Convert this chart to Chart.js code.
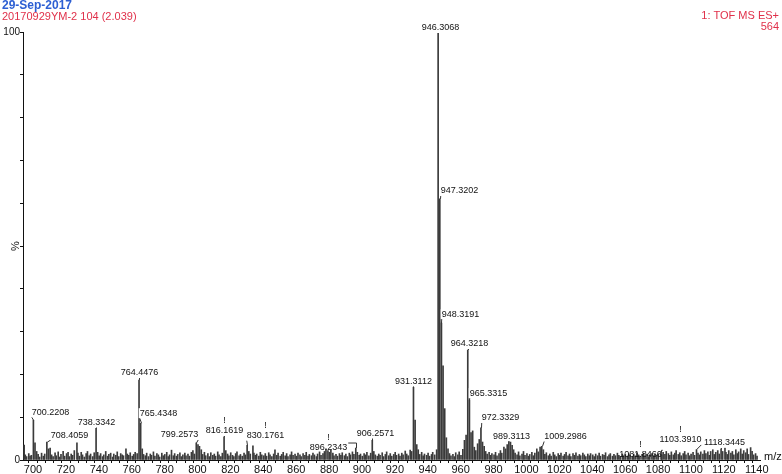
<!DOCTYPE html>
<html>
<head>
    <title>TOF MS ES+ spectrum</title>
    <meta charset="utf-8" />
    <script src="https://cdn.jsdelivr.net/npm/chart.js@4.4.1/dist/chart.umd.min.js"></script>
    <style>
        body { margin: 0; background: #fff; }
        #chart { display: block; }
    </style>
</head>
<body>

<canvas id="chart" width="782" height="474"></canvas>

<script>
    // header texts
    var headDate = '29-Sep-2017';
    var headSample = '20170929YM-2 104 (2.039)';
    var headMode = '1: TOF MS ES+';
    var headCount = '564';

    // axis ticks
    var xTickLabels = [700, 720, 740, 760, 780, 800, 820, 840, 860, 880, 900, 920, 940, 960, 980,
                       1000, 1020, 1040, 1060, 1080, 1100, 1120, 1140];
    var yTickLabels = [0, 100];

    // labelled peaks (m/z, % intensity, "!" marker)
    var labelMz = [700.2208, 708.4059, 738.3342, 764.4476, 765.4348, 799.2573, 816.1619, 830.1761,
                   896.2343, 906.2571, 931.3112, 946.3068, 947.3202, 948.3191, 964.3218, 965.3315,
                   972.3329, 989.3113, 1009.2986, 1081.8466, 1103.3910, 1118.3445];
    var labelInt = [9.3, 4.2, 7.4, 18.7, 8.6, 4.0, 5.4, 3.4,
                    2.8, 4.6, 17.0, 100, 61.0, 32.0, 25.7, 14.0,
                    7.5, 4.4, 3.2, 1.8, 2.4, 2.6];
    var labelBang = [0, 0, 0, 0, 0, 0, 1, 1,
                     1, 0, 0, 0, 0, 0, 0, 0,
                     0, 0, 0, 1, 1, 0];

    // other clear peaks without a label
    var otherPeaks = [
        [694.6, 3.5], [701.2, 4.0], [932.3, 9.3], [949.3, 22.0], [950.3, 12.0]
    ];

    // baseline noise sticks
    var noisePeaks = [
        [695.3,1.2],[696.1,0.8],[697.4,1.5],[698.2,0.9],[699.0,1.1],[702.2,2.0],[703.1,1.3],[704.0,0.7],
        [705.2,1.6],[706.3,0.9],[707.1,1.4],[709.4,2.6],[710.4,2.8],[711.3,1.2],[712.2,0.8],[713.4,1.7],
        [714.1,1.0],[715.3,1.9],[716.2,0.7],[717.0,1.3],[718.3,2.0],[719.2,0.9],
        [720.4,1.5],[721.3,1.8],[722.1,0.8],[723.2,1.4],[724.0,1.1],[725.1,2.2],[726.7,4.0],[727.3,1.6],
        [728.2,0.9],[729.3,1.8],[730.1,1.2],[731.2,0.7],[732.3,1.5],[733.1,2.0],[734.2,1.0],[735.0,1.4],
        [736.3,0.8],[737.2,1.7],[739.3,1.8],
        [740.2,1.0],[741.1,1.5],[742.3,0.8],[743.0,1.2],[744.2,2.0],[745.3,0.9],[746.1,1.3],[747.2,1.6],
        [748.4,0.7],[749.1,1.4],[750.3,1.1],[751.2,1.9],[752.1,0.8],[753.3,1.5],[754.2,1.2],[755.0,1.0],
        [756.5,2.6],[757.3,1.4],[758.2,1.1],[759.1,1.7],
        [760.3,0.9],[761.2,1.3],[762.1,1.8],[763.3,1.5],[766.4,2.6],[767.2,1.3],[768.3,1.0],[769.1,1.6],
        [770.2,0.8],[771.3,1.4],[772.0,1.1],[773.2,1.9],[774.1,0.9],[775.3,1.5],[776.2,1.2],[777.0,0.7],
        [778.3,1.6],[779.2,1.0],
        [780.1,1.3],[781.3,1.8],[782.2,0.8],[783.0,1.2],[784.2,2.3],[785.3,1.0],[786.1,1.5],[787.2,0.9],
        [788.0,1.3],[789.3,1.7],[790.2,0.8],[791.1,1.2],[792.3,1.6],[793.0,1.0],[794.2,1.4],[795.1,0.9],
        [796.3,1.8],[797.2,2.2],[798.1,1.4],[800.3,3.6],[801.2,3.2],[802.3,2.4],
        [803.1,1.3],[804.2,1.8],[805.0,1.0],[806.3,1.5],[807.2,0.8],[808.1,1.7],[809.3,1.1],[810.2,1.4],
        [811.0,0.9],[812.3,1.9],[813.1,1.2],[814.2,0.8],[815.1,1.6],[817.2,2.2],[818.3,1.4],[819.1,1.0],
        [820.2,1.7],[821.3,1.1],[822.1,0.8],[823.2,1.5],[824.0,1.9],[825.3,1.0],[826.1,1.3],[827.2,0.9],
        [828.3,1.6],[829.1,1.2],[831.2,2.0],[832.1,1.4],[833.7,3.3],[834.3,1.6],[835.2,1.1],[836.0,1.4],
        [837.3,0.9],[838.2,1.8],[839.1,1.2],
        [840.3,1.0],[841.2,1.5],[842.0,0.9],[843.3,1.7],[844.1,1.2],[845.2,0.8],[846.3,1.4],[847.1,2.4],
        [848.2,1.1],[849.0,1.6],[850.3,0.9],[851.2,1.3],[852.1,1.8],[853.3,1.0],[854.2,1.5],[855.0,0.8],
        [856.3,1.2],[857.2,1.9],[858.1,1.1],[859.3,1.4],
        [860.2,0.9],[861.1,1.6],[862.3,1.2],[863.0,0.8],[864.2,1.5],[865.3,1.1],[866.1,1.8],[867.2,0.9],
        [868.0,1.3],[869.3,1.0],[870.2,1.6],[871.1,1.2],[872.3,0.8],[873.0,1.4],[874.2,1.9],[875.1,1.1],
        [876.3,1.5],[877.2,2.0],[878.1,2.6],[879.3,2.2],[880.2,1.8],
        [881.1,2.4],[882.3,1.6],[883.0,1.0],[884.2,1.3],[885.1,0.9],[886.3,1.5],[887.2,1.1],[888.0,1.7],
        [889.3,1.0],[890.2,1.4],[891.1,0.8],[892.3,1.6],[893.0,1.2],[894.2,1.9],[895.1,1.3],[897.2,1.8],
        [898.3,1.1],[899.1,1.4],
        [900.2,0.9],[901.3,1.5],[902.1,1.2],[903.0,1.8],[904.2,1.0],[905.3,1.6],[907.2,2.0],[908.1,1.2],
        [909.3,0.9],[910.2,1.4],[911.0,1.1],[912.3,1.7],[913.1,0.8],[914.2,1.3],[915.0,1.9],[916.3,1.0],
        [917.2,1.5],[918.1,0.9],[919.3,1.3],
        [920.2,1.8],[921.0,1.1],[922.3,1.4],[923.1,0.9],[924.2,1.6],[925.0,1.2],[926.3,2.1],[927.2,1.4],
        [928.1,1.0],[929.3,2.3],[930.2,2.0],[933.3,3.6],[934.2,2.4],[935.1,1.3],[936.3,1.8],[937.2,1.0],
        [938.0,1.4],[939.3,1.1],
        [940.2,1.6],[941.1,0.9],[942.3,1.3],[943.0,1.8],[944.2,1.2],[945.4,2.4],[951.3,5.2],[952.3,2.6],
        [953.2,1.5],[954.1,1.0],[955.3,1.3],[956.2,0.8],[957.0,1.7],[958.3,1.2],[959.1,1.9],
        [960.2,1.1],[961.3,2.5],[962.3,4.6],[963.3,5.8],[966.3,6.4],[967.3,6.8],[968.3,3.0],[969.2,2.2],
        [970.3,3.8],[971.3,4.8],[973.3,4.2],[974.3,3.2],[975.2,2.0],[976.1,1.4],[977.3,1.8],[978.2,1.1],
        [979.0,1.5],
        [980.3,1.2],[981.2,1.8],[982.1,1.0],[983.3,1.5],[984.2,2.2],[985.0,1.6],[986.3,3.0],[987.3,2.6],
        [988.3,3.6],[990.3,4.2],[991.3,3.4],[992.2,2.4],[993.1,1.6],[994.3,1.2],[995.2,1.9],[996.0,1.0],
        [997.3,1.4],[998.2,2.0],[999.1,1.1],
        [1000.3,1.5],[1001.2,0.9],[1002.0,1.3],[1003.3,1.8],[1004.2,1.0],[1005.1,1.6],[1006.3,2.6],[1007.2,1.9],
        [1008.3,3.0],[1010.3,2.4],[1011.2,1.3],[1012.1,1.7],[1013.3,1.0],[1014.2,1.4],[1015.0,0.9],[1016.3,1.8],
        [1017.2,1.2],[1018.1,0.8],[1019.3,1.5],
        [1020.2,1.1],[1021.0,1.6],[1022.3,0.9],[1023.2,1.3],[1024.1,1.8],[1025.3,1.0],[1026.2,1.4],[1027.0,0.8],
        [1028.3,1.5],[1029.2,1.1],[1030.1,1.7],[1031.3,0.9],[1032.2,1.3],[1033.0,1.0],[1034.3,1.6],[1035.2,1.2],
        [1036.1,0.8],[1037.3,1.4],[1038.2,1.0],[1039.0,1.5],
        [1040.3,1.2],[1041.2,0.8],[1042.1,1.4],[1043.3,1.0],[1044.2,1.6],[1045.0,0.9],[1046.3,1.3],[1047.2,1.1],
        [1048.1,1.7],[1049.3,0.8],[1050.2,1.2],[1051.0,1.5],[1052.3,0.9],[1053.2,1.3],[1054.1,1.0],[1055.3,1.6],
        [1056.2,1.1],[1057.0,0.8],[1058.3,1.4],[1059.2,1.0],
        [1060.1,1.3],[1061.3,0.9],[1062.2,1.5],[1063.0,1.1],[1064.3,0.8],[1065.2,1.4],[1066.1,1.0],[1067.3,1.7],
        [1068.2,1.2],[1069.0,0.9],[1070.3,1.3],[1071.2,1.6],[1072.1,1.0],[1073.3,1.4],[1074.2,0.8],[1075.0,1.2],
        [1076.3,1.5],[1077.2,1.0],[1078.1,1.3],[1079.3,1.1],
        [1080.2,1.4],[1082.3,1.2],[1083.1,1.8],[1084.2,1.3],[1085.0,2.0],[1086.3,1.5],[1087.2,1.1],[1088.1,1.9],
        [1089.3,1.2],[1090.2,1.6],[1091.0,2.2],[1092.3,1.3],[1093.2,1.7],[1094.1,1.0],[1095.3,1.5],[1096.2,2.0],
        [1097.0,1.2],[1098.3,1.6],[1099.2,1.0],
        [1100.1,1.4],[1101.3,1.8],[1102.2,1.1],[1104.3,1.6],[1105.2,1.2],[1106.0,1.9],[1107.3,1.4],[1108.2,2.2],
        [1109.1,1.5],[1110.3,1.9],[1111.2,1.1],[1112.0,2.0],[1113.3,2.4],[1114.2,1.3],[1115.1,1.8],[1116.3,2.2],
        [1117.2,1.4],[1119.3,2.0],[1120.7,3.0],
        [1121.3,1.8],[1122.2,1.3],[1123.0,2.2],[1124.3,1.6],[1125.2,2.0],[1126.1,1.2],[1127.3,2.4],[1128.2,1.5],
        [1129.0,1.9],[1130.3,2.6],[1131.2,1.4],[1132.1,2.2],[1133.3,1.7],[1134.2,2.6],[1135.0,1.3],[1136.3,2.9],
        [1137.2,2.0],[1138.1,1.2],[1139.3,1.5],[1140.2,0.9]
    ];

    var FONT = '"Liberation Sans", Arial, sans-serif';

    // where each peak label sits, relative to the peak top: [dx, dy, leader kind]
    var labelPlace = [
        [17, 8, 'd'], [22, 7, 'd'], [0, 6, 'v'], [0, 7, 'v'], [17, 10, 'd'], [-17, 8, 'd'], [0, 6, 'v'], [18, 10, 'd'],
        [-28, 1, 'b'], [3, 7, 'v'], [0, 6, 'v'], [2, 4, 'v'], [19, 8, 'd'], [19, 9, 'd'], [1, 6, 'v'], [19, 7, 'd'],
        [19, 10, 'd'], [2, 5, 'v'], [23, 10, 'd'], [-21, -2, 'b'], [-16, 10, 'd'], [3, 6, 'v']
    ];

    var peakLabels = {
        id: 'peakLabels',
        afterDatasetsDraw: function (chart) {
            var ctx = chart.ctx, x = chart.scales.x, y = chart.scales.y;
            ctx.save();
            ctx.font = '9px ' + FONT;
            ctx.textAlign = 'center';
            ctx.textBaseline = 'middle';
            ctx.lineWidth = 1;
            labelMz.forEach(function (mz, i) {
                var px = Math.round(x.getPixelForValue(mz)) + 0.5, py = y.getPixelForValue(labelInt[i]);
                var pl = labelPlace[i];
                var text = mz.toFixed(4);
                var tx = px + pl[0], ty = py - pl[1];
                var w = ctx.measureText(text).width;
                ctx.strokeStyle = '#333';
                ctx.beginPath();
                if (pl[2] === 'b') {
                    ctx.moveTo(tx + w / 2 + 1, ty - 4);
                    ctx.lineTo(px, ty - 4);
                    ctx.lineTo(px, py);
                } else if (pl[2] === 'd') {
                    var ex = pl[0] > 0 ? tx - w / 2 : tx + w / 2;
                    ctx.moveTo(px, py);
                    ctx.lineTo(ex, ty + 5);
                } else {
                    ctx.moveTo(px, py);
                    ctx.lineTo(px, ty + 5);
                }
                ctx.stroke();
                if (pl[2] !== 'b') {
                    ctx.fillStyle = '#fff';
                    ctx.fillRect(tx - w / 2 - 1, ty - 5, w + 2, 10);
                }
                ctx.fillStyle = '#111';
                ctx.fillText(text, tx, ty);
                if (labelBang[i]) ctx.fillText('!', tx, ty - 10);
            });
            ctx.restore();
        }
    };

    var headerText = {
        id: 'headerText',
        afterDraw: function (chart) {
            var ctx = chart.ctx;
            ctx.save();
            ctx.textBaseline = 'middle';
            ctx.textAlign = 'left';
            ctx.font = 'bold 12px ' + FONT;
            ctx.fillStyle = '#2d5fd3';
            ctx.fillText(headDate, 2, 6);
            ctx.font = '11px ' + FONT;
            ctx.fillStyle = '#e0304a';
            ctx.fillText(headSample, 2, 17);
            ctx.textAlign = 'right';
            ctx.fillText(headMode, 779, 16);
            ctx.fillText(headCount, 779, 27);
            // axis titles
            ctx.fillStyle = '#111';
            ctx.font = '11px ' + FONT;
            ctx.textAlign = 'left';
            ctx.fillText('m/z', 764, 457);
            ctx.translate(16, 246);
            ctx.rotate(-Math.PI / 2);
            ctx.textAlign = 'center';
            ctx.fillText('%', 0, 0);
            ctx.restore();
        }
    };

    var chart = new Chart(document.getElementById('chart'), {
        type: 'bar',
        data: {
            datasets: [{
                label: 'peaks',
                data: otherPeaks.map(function (p) { return { x: p[0], y: p[1] }; })
                    .concat(labelMz.map(function (mz, i) { return { x: mz, y: labelInt[i] }; })),
                backgroundColor: '#3a3a3a',
                barThickness: 1,
                grouped: false,
                order: 1
            }, {
                label: 'noise',
                data: noisePeaks.map(function (p) { return { x: p[0], y: p[1] }; }),
                backgroundColor: '#3c3c3c',
                barThickness: 1,
                grouped: false,
                order: 2
            }]
        },
        options: {
            responsive: false,
            animation: false,
            devicePixelRatio: 1,
            layout: { padding: { left: 0, top: 32, right: 22, bottom: 0 } },
            plugins: {
                legend: { display: false },
                tooltip: { enabled: false }
            },
            scales: {
                x: {
                    type: 'linear',
                    min: 693.9,
                    max: 1142,
                    offset: false,
                    border: { display: true, color: '#111', width: 1 },
                    grid: { display: true, drawOnChartArea: false, drawTicks: true, tickLength: 3, color: '#111' },
                    afterBuildTicks: function (scale) {
                        var t = [];
                        for (var v = 695; v <= 1140; v += 5) t.push({ value: v });
                        scale.ticks = t;
                    },
                    ticks: {
                        autoSkip: false,
                        maxRotation: 0,
                        padding: 0,
                        color: '#111',
                        font: { size: 11, family: FONT },
                        callback: function (v) { return xTickLabels.indexOf(v) >= 0 ? String(v) : ''; }
                    },
                    afterFit: function (scale) { scale.height = 14; }
                },
                y: {
                    min: 0,
                    max: 100,
                    border: { display: true, color: '#111', width: 1 },
                    grid: { display: true, drawOnChartArea: false, drawTicks: true, tickLength: 3, color: '#111' },
                    ticks: {
                        stepSize: 10,
                        autoSkip: false,
                        padding: 0,
                        color: '#111',
                        font: { size: 10, family: FONT },
                        callback: function (v) { return yTickLabels.indexOf(v) >= 0 ? String(v) : ''; }
                    },
                    afterFit: function (scale) { scale.width = 23; }
                }
            }
        },
        plugins: [peakLabels, headerText]
    });
</script>

</body>
</html>
